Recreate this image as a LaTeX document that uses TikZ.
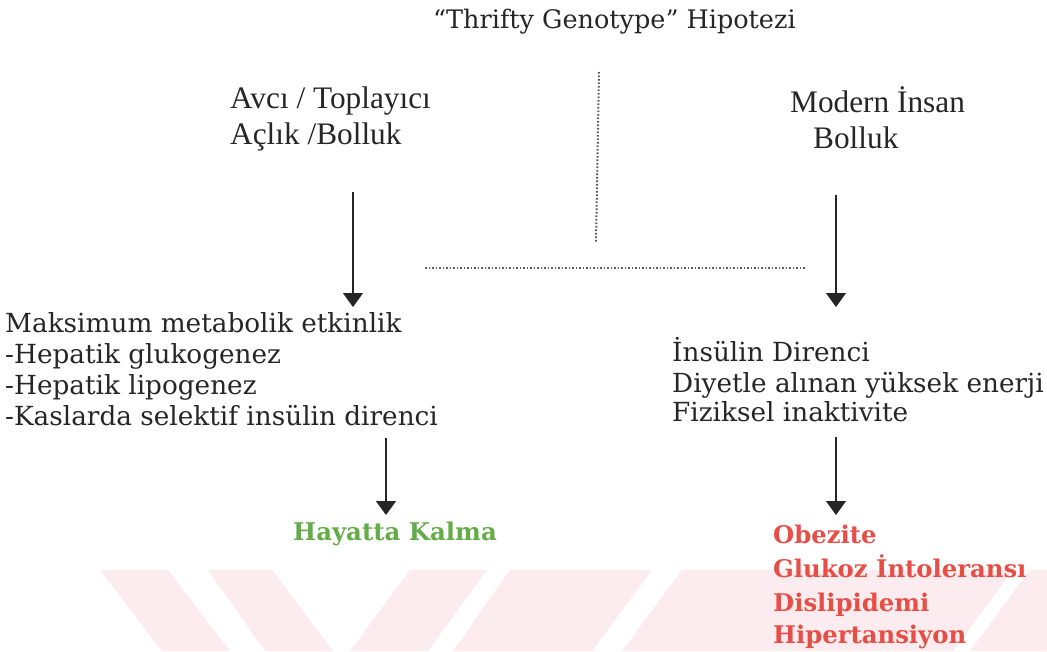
\documentclass[tikz,border=0pt]{standalone}
\usepackage{fontspec}
\setmainfont{Liberation Serif}
\newfontfamily\bk{DejaVu Serif}
\usetikzlibrary{arrows.meta}
\definecolor{ink}{HTML}{262626}
\definecolor{okgreen}{RGB}{100,172,72}
\definecolor{badred}{RGB}{230,78,70}
\definecolor{wm}{HTML}{FCECEF}
\tikzset{
  bkline/.style={anchor=base west, inner sep=0pt, text=ink, font=\bk\fontsize{26.3}{30}\selectfont},
  titleline/.style={anchor=base west, inner sep=0pt, text=ink, font=\bk\fontsize{25.5}{30}\selectfont},
  tmline/.style={anchor=base west, inner sep=0pt, text=ink, font=\fontsize{31.3}{36}\selectfont},
  goodline/.style={anchor=base west, inner sep=0pt, text=okgreen, font=\bk\bfseries\fontsize{24.4}{28}\selectfont},
  badline/.style={anchor=base west, inner sep=0pt, text=badred, font=\bk\bfseries\fontsize{24.3}{28}\selectfont},
  flow/.style={draw=ink, line width=1.3pt, -{Triangle[width=20pt,length=14pt]}},
  dots/.style={draw=gray!70!black, line width=2pt, dash pattern=on 1.6pt off 1.9pt},
  wmark/.style={fill=wm, draw=none}
}
\begin{document}
\begin{tikzpicture}[x=1pt,y=-1pt]
\useasboundingbox (0,0) rectangle (1047,651);
% watermark
\fill[wmark] (100,570) -- (168,570) -- (230,651) -- (162,651) -- cycle;
\fill[wmark] (208,570) -- (272,570) -- (333,651) -- (265,651) -- cycle;
\fill[wmark] (410,570) -- (487,570) -- (428,651) -- (350,651) -- cycle;
\fill[wmark] (510,570) -- (652,570) -- (592,651) -- (453,651) -- cycle;
\fill[wmark] (682,570) -- (1013,570) -- (953,651) -- (622,651) -- cycle;
\fill[wmark] (1030,570) -- (1047,570) -- (1047,651) -- (970,651) -- cycle;
% title
\node[titleline] (title) at (433,28) {“Thrifty Genotype” Hipotezi};
% upper texts
\node[tmline] (hg1) at (230,108) {Avcı / Toplayıcı};
\node[tmline] (hg2) at (230,144) {Açlık /Bolluk};
\node[tmline] (mh1) at (790,112) {Modern İnsan};
\node[tmline] (mh2) at (813,148) {Bolluk};
% dotted connectors
\coordinate (vtop) at (599,72);
\coordinate (vbot) at (596,243);
\coordinate (hl) at (425,268);
\coordinate (hr) at (805,268);
\draw[dots] (vtop) -- (vbot);
\draw[dots] (hl) -- (hr);
% left middle
\node[bkline] (mx1) at (5,332) {Maksimum metabolik etkinlik};
\node[bkline] (mx2) at (5,363) {-Hepatik glukogenez};
\node[bkline] (mx3) at (5,394) {-Hepatik lipogenez};
\node[bkline] (mx4) at (5,425) {-Kaslarda selektif insülin direnci};
% right middle
\node[bkline] (ir1) at (672,361) {İnsülin Direnci};
\node[bkline] (ir2) at (672,392) {Diyetle alınan yüksek enerji};
\node[bkline] (ir3) at (672,421) {Fiziksel inaktivite};
% outcomes
\node[goodline] (hk) at (293,540) {Hayatta Kalma};
\node[badline] (ob1) at (773,543) {Obezite};
\node[badline] (ob2) at (773,577) {Glukoz İntoleransı};
\node[badline] (ob3) at (773,611) {Dislipidemi};
\node[badline] (ob4) at (773,643) {Hipertansiyon};
% arrows
\coordinate (a1s) at (353,192);
\coordinate (a1e) at (353,307);
\coordinate (a2s) at (836,195);
\coordinate (a2e) at (836,307);
\coordinate (a3s) at (386,438);
\coordinate (a3e) at (386,515);
\coordinate (a4s) at (836,437);
\coordinate (a4e) at (836,515);
\draw[flow] (a1s) -- (a1e);
\draw[flow] (a2s) -- (a2e);
\draw[flow] (a3s) -- (a3e);
\draw[flow] (a4s) -- (a4e);
\end{tikzpicture}
\end{document}
